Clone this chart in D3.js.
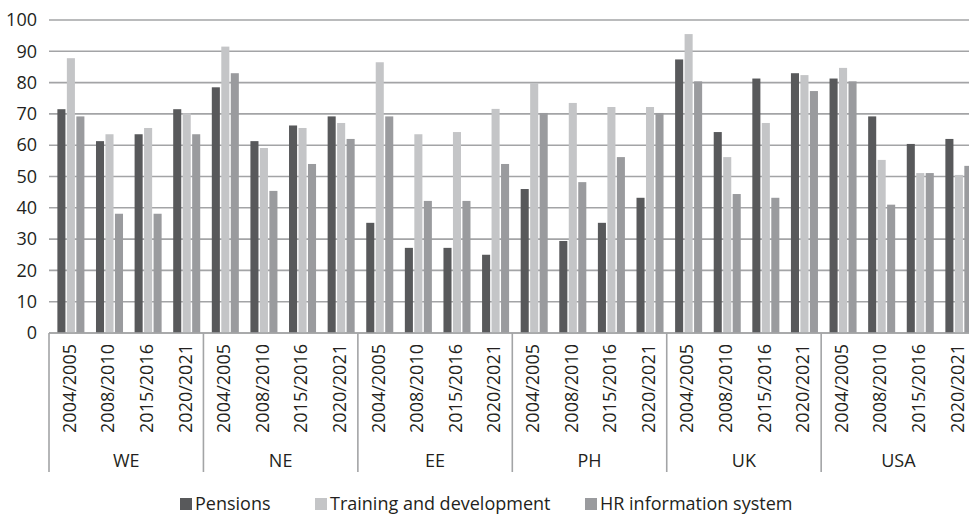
<!DOCTYPE html>
<html>
<head>
<meta charset="utf-8">
<script src="https://cdn.jsdelivr.net/npm/d3@7/dist/d3.min.js"></script>
<style>
  html, body { margin: 0; padding: 0; background: #fff; }
  svg { display: block; }
  text { font-family: "Open Sans", "Noto Sans", sans-serif; fill: #231f20; }
</style>
</head>
<body>
<svg id="chart" width="969" height="514"></svg>
<script>
// Regions, survey waves and the three practices compared
const regions = ["WE", "NE", "EE", "PH", "UK", "USA"];
const waves = ["2004/2005", "2008/2010", "2015/2016", "2020/2021"];
const seriesNames = ["Pensions", "Training and development", "HR information system"];

// Percentages, one entry per region × wave, in region order
const pensions = [71.5, 61.3, 63.5, 71.5, 78.5, 61.3, 66.3, 69.2, 35.2, 27.2, 27.2, 25,
                  46, 29.4, 35.2, 43.2, 87.4, 64.2, 81.3, 83, 81.3, 69.2, 60.4, 62];
const training = [87.8, 63.5, 65.5, 70.2, 91.5, 59.1, 65.5, 67.1, 86.5, 63.5, 64.2, 71.6,
                  79.9, 73.5, 72.2, 72.2, 95.5, 56.2, 67.1, 82.4, 84.7, 55.3, 51.1, 50.5];
const hris = [69.2, 38.1, 38.1, 63.5, 83, 45.4, 54, 62, 69.2, 42.2, 42.2, 54,
              70.3, 48.2, 56.2, 70.3, 80.4, 44.4, 43.2, 77.3, 80.4, 41, 51.1, 53.4];

const yTicks = [0, 10, 20, 30, 40, 50, 60, 70, 80, 90, 100];
const colors = ["#58595b", "#c4c5c7", "#9a9b9e"];

const categories = [];
regions.forEach(r => waves.forEach(w => categories.push(r + "|" + w)));
const rows = categories.map((c, i) => ({
  key: c, region: c.split("|")[0], wave: c.split("|")[1],
  values: [pensions[i], training[i], hris[i]]
}));

const svg = d3.select("#chart");
const plotLeft = 49, plotRight = 975.6, plotTop = 20, plotBottom = 333, axisDrop = 472;
const fontSize = "18px";

const x0 = d3.scaleBand().domain(categories).range([plotLeft, plotRight]).padding(0);
const bw = x0.bandwidth();
const x1 = d3.scaleBand().domain(d3.range(3))
  .range([bw * 0.217, bw * 0.917]).paddingInner(0.15).paddingOuter(0);
const y = d3.scaleLinear().domain([0, 100]).range([plotBottom, plotTop]);

const gridColor = "#a3a4a6";

// horizontal gridlines
svg.append("g").selectAll("line").data(yTicks).join("line")
  .attr("x1", plotLeft).attr("x2", 969)
  .attr("y1", d => y(d)).attr("y2", d => y(d))
  .attr("stroke", gridColor).attr("stroke-width", 1.6);

// y axis labels
const yAxis = d3.axisLeft(y).tickValues(yTicks).tickSize(0).tickPadding(0);
const yg = svg.append("g").attr("transform", `translate(37,0)`).call(yAxis);
yg.select(".domain").remove();
yg.selectAll("text").style("font-size", fontSize).style("font-family", "Open Sans").attr("fill", "#231f20");

// bars
const groups = svg.append("g").selectAll("g").data(rows).join("g")
  .attr("transform", d => `translate(${x0(d.key)},0)`);
groups.selectAll("rect").data(d => d.values).join("rect")
  .attr("x", (d, i) => x1(i))
  .attr("width", x1.bandwidth())
  .attr("y", d => y(d))
  .attr("height", d => y(0) - y(d))
  .attr("fill", (d, i) => colors[i]);

// baseline redrawn over bars
svg.append("line").attr("x1", plotLeft).attr("x2", 969)
  .attr("y1", plotBottom).attr("y2", plotBottom)
  .attr("stroke", gridColor).attr("stroke-width", 1.6);

// wave labels (rotated)
const xAxis = d3.axisBottom(x0).tickSize(0).tickFormat(d => d.split("|")[1]);
const xg = svg.append("g").attr("transform", `translate(2,${plotBottom})`).call(xAxis);
xg.select(".domain").remove();
xg.selectAll("text")
  .style("font-size", fontSize).style("font-family", "Open Sans").attr("fill", "#231f20")
  .attr("transform", "rotate(-90)")
  .attr("x", -11).attr("y", 0).attr("dy", "0.3em")
  .attr("text-anchor", "end");

// region separators and labels
const groupEdges = regions.map((r, i) => x0(r + "|" + waves[0]));
groupEdges.push(plotRight);
svg.append("g").selectAll("line").data(groupEdges).join("line")
  .attr("x1", d => d).attr("x2", d => d)
  .attr("y1", plotBottom).attr("y2", axisDrop)
  .attr("stroke", gridColor).attr("stroke-width", 1.6);

svg.append("g").selectAll("text").data(regions).join("text")
  .attr("x", (r, i) => (groupEdges[i] + groupEdges[i + 1]) / 2)
  .attr("y", 467)
  .attr("text-anchor", "middle")
  .style("font-size", fontSize)
  .text(d => d);

// legend
const legendX = [180, 315, 585];
const leg = svg.append("g").selectAll("g").data(seriesNames).join("g")
  .attr("transform", (d, i) => `translate(${legendX[i]},498)`);
leg.append("rect").attr("width", 12).attr("height", 12).attr("fill", (d, i) => colors[i]);
leg.append("text").attr("x", 15).attr("y", 12).style("font-size", fontSize).text(d => d);
</script>
</body>
</html>
